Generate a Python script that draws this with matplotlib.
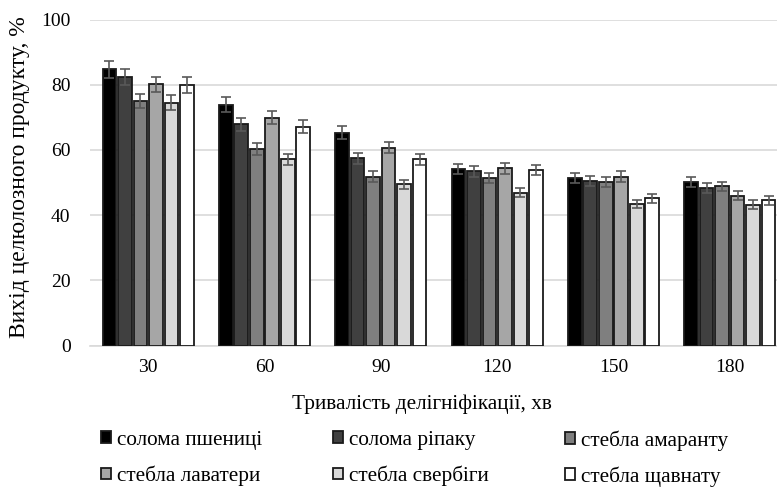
import matplotlib
matplotlib.use("Agg")
import matplotlib.pyplot as plt
import numpy as np

plt.rcParams['font.family'] = ['Liberation Serif', 'DejaVu Serif']

categories = ["30", "60", "90", "120", "150", "180"]
series_names = ["солома пшениці", "солома ріпаку", "стебла амаранту",
                "стебла лаватери", "стебла свербіги", "стебла щавнату"]
wheat    = [84.7, 73.9, 65.2, 54.1, 51.4, 50.2]
rapeseed = [82.4, 67.9, 57.4, 53.4, 50.4, 48.3]
amaranth = [75.0, 60.2, 51.8, 51.3, 50.2, 48.8]
lavatera = [80.1, 69.9, 60.7, 54.3, 51.8, 46.0]
sverbiga = [74.5, 57.1, 49.4, 46.9, 43.4, 43.2]
sorrel   = [80.0, 67.1, 57.1, 53.8, 45.1, 44.5]
err_wheat    = [2.5, 2.2, 2.0, 1.6, 1.5, 1.5]
err_rapeseed = [2.5, 2.0, 1.7, 1.6, 1.5, 1.4]
err_amaranth = [2.2, 1.8, 1.6, 1.5, 1.5, 1.5]
err_lavatera = [2.4, 2.1, 1.8, 1.6, 1.6, 1.4]
err_sverbiga = [2.2, 1.7, 1.5, 1.4, 1.3, 1.3]
err_sorrel   = [2.4, 2.0, 1.7, 1.6, 1.4, 1.3]

values = [wheat, rapeseed, amaranth, lavatera, sverbiga, sorrel]
errors = [err_wheat, err_rapeseed, err_amaranth, err_lavatera, err_sverbiga, err_sorrel]
colors = ["#000000", "#404040", "#7f7f7f", "#a6a6a6", "#d9d9d9", "#ffffff"]

W, H = 777, 488
fig = plt.figure(figsize=(W / 100, H / 100), dpi=100)
ax = fig.add_axes([90 / W, 142.5 / H, 698 / W, 326 / H])

x = np.arange(len(categories))
pitch = 0.133
bw = 0.118
handles = []
for i, (vals, errs, c, name) in enumerate(zip(values, errors, colors, series_names)):
    pos = x + (i - 2.5) * pitch
    b = ax.bar(pos, vals, width=bw, color=c, edgecolor="#1a1a1a", linewidth=1.3,
               label=name, zorder=3)
    handles.append(b)
    ax.errorbar(pos, vals, yerr=errs, fmt="none", ecolor="#595959",
                elinewidth=1.2, capsize=3.5, capthick=1.2, zorder=4)

ax.set_xlim(-0.5, len(categories) - 0.5)
ax.set_ylim(0, 100)
ax.set_yticks([0, 20, 40, 60, 80, 100])
ax.yaxis.grid(True, color="#d9d9d9", linewidth=1.2, zorder=0)
ax.set_axisbelow(True)
for s in ["top", "right", "left"]:
    ax.spines[s].set_visible(False)
ax.spines["bottom"].set_color("#d9d9d9")
ax.spines["bottom"].set_linewidth(1.2)
ax.set_xticks(x)
ax.set_xticklabels(categories)
ax.tick_params(axis="both", length=0, labelsize=14, colors="black")
ax.tick_params(axis="y", pad=14)
ax.tick_params(axis="x", pad=10)

fig.text(20 / W, 1 - 177 / H, "Вихід целюлозного продукту, %", rotation=90,
         ha="center", va="center", fontsize=17)
fig.text(422 / W, 1 - 404 / H, "Тривалість делігніфікації, хв",
         ha="center", va="center", fontsize=15.3)

# legend: three equally spaced columns, two rows
col_x = [101, 333, 565]
for j in range(3):
    lg = fig.legend([handles[j], handles[j + 3]],
                    [series_names[j], series_names[j + 3]],
                    loc="center left", bbox_to_anchor=(col_x[j] / W, 1 - 458.5 / H),
                    frameon=False, fontsize=15.3, handlelength=0.47,
                    handleheight=0.47, handletextpad=0.3, labelspacing=0.74,
                    borderpad=0, borderaxespad=0)

fig.savefig("out.png", dpi=100)
